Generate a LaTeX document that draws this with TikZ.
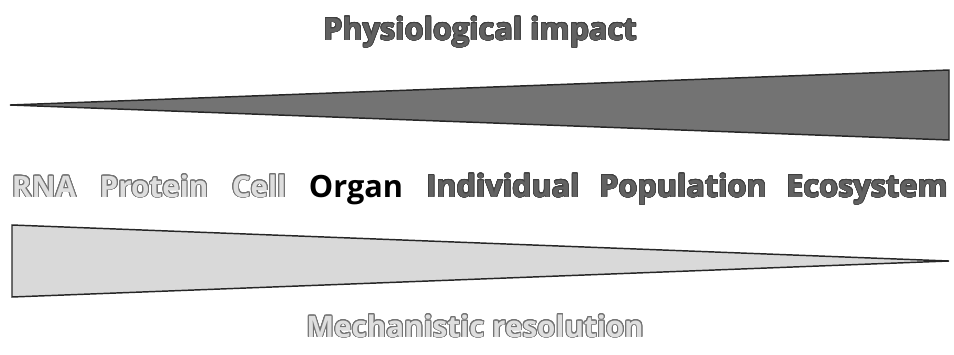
\documentclass[tikz,border=0pt]{standalone}
\usepackage{fontspec}
\setmainfont{Open Sans}
\usepackage{tikz}
\usepackage{xcolor}
\usepackage{contour}
\contournumber{24}

\begin{document}
\begin{tikzpicture}[x=0.75pt,y=-0.75pt,
  word/.style={anchor=base,inner sep=0pt,font=\fontsize{23}{26}\selectfont\bfseries},
  hollow/.style={word,text=black!13,font=\fontsize{22.2}{26}\selectfont\bfseries},
  solid/.style={word,text=black!62},
  wedge/.style={draw=black!85,line width=1.1pt,line join=miter}]
\useasboundingbox (0,0) rectangle (954,354);
\node[solid] (impact) at (480,40) {\contourlength{0.5pt}\contour{black!75}{Physiological impact}};
\filldraw[wedge,fill=black!55] (10,105) -- (949,70) -- (949,140) -- cycle;
\node[hollow] (rna) at (44,197) {\contourlength{0.7pt}\contour{black!55}{RNA}};
\node[hollow] (protein) at (154,197) {\contourlength{0.7pt}\contour{black!55}{Protein}};
\node[hollow] (cell) at (259,197) {\contourlength{0.7pt}\contour{black!55}{Cell}};
\node[word,text=black] (organ) at (356,197) {Organ};
\node[solid] (individual) at (503,197) {\contourlength{0.5pt}\contour{black!75}{Individual}};
\node[solid] (population) at (683,197) {\contourlength{0.5pt}\contour{black!75}{Population}};
\node[solid] (ecosystem) at (867,197) {\contourlength{0.5pt}\contour{black!75}{Ecosystem}};
\filldraw[wedge,fill=black!15] (12,225) -- (949,261) -- (12,297) -- cycle;
\node[hollow] (resolution) at (475,337) {\contourlength{0.7pt}\contour{black!55}{Mechanistic resolution}};
\end{tikzpicture}
\end{document}
